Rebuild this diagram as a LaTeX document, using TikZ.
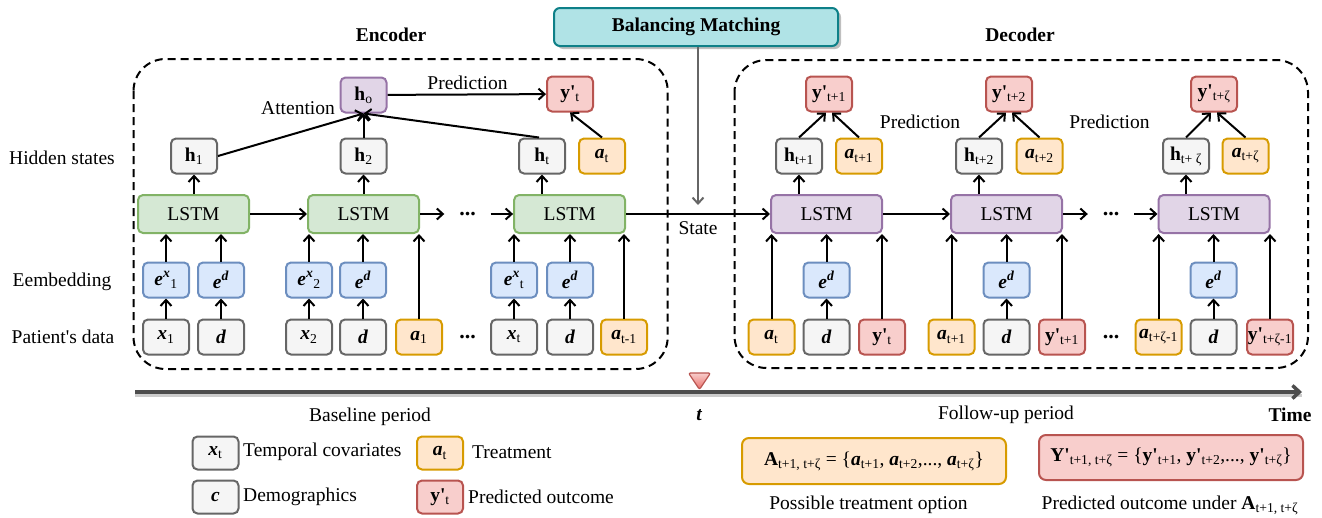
\documentclass[tikz,border=0pt]{standalone}
\usepackage{fontspec}
\setmainfont{Liberation Serif}
\usetikzlibrary{arrows.meta,shadows}
\definecolor{gfill}{HTML}{F5F5F5}\definecolor{gline}{HTML}{666666}
\definecolor{grfill}{HTML}{D5E8D4}\definecolor{grline}{HTML}{82B366}
\definecolor{bfill}{HTML}{DAE8FC}\definecolor{bline}{HTML}{6C8EBF}
\definecolor{ofill}{HTML}{FFE6CC}\definecolor{oline}{HTML}{D79B00}
\definecolor{rfill}{HTML}{F8CECC}\definecolor{rline}{HTML}{B85450}
\definecolor{pfill}{HTML}{E1D5E7}\definecolor{pline}{HTML}{9673A6}
\definecolor{tfill}{HTML}{B0E3E6}\definecolor{tline}{HTML}{0E8088}
\definecolor{tlcol}{HTML}{4D4D4D}\definecolor{tridark}{HTML}{EA6B66}
\newcommand{\bi}[1]{\textbf{\textit{#1}}}
\newcommand{\sbs}[1]{\textsubscript{#1}}
\newcommand{\sps}[1]{\textsuperscript{#1}}
\newcommand{\apo}{\textquotesingle}
\begin{document}
\begin{tikzpicture}[x=1pt,y=-1pt,
  every node/.style={font=\fontsize{19.5}{22}\selectfont},
  box/.style={draw, rounded corners=5pt, line width=2pt, minimum width=46pt, minimum height=35pt, inner sep=0pt},
  gbox/.style={box, fill=gfill, draw=gline},
  ebox/.style={box, fill=bfill, draw=bline},
  obox/.style={box, fill=ofill, draw=oline},
  rbox/.style={box, fill=rfill, draw=rline},
  pbox/.style={box, fill=pfill, draw=pline},
  lstmg/.style={box, minimum width=111pt, minimum height=38pt, fill=grfill, draw=grline},
  lstmp/.style={box, minimum width=111pt, minimum height=38pt, fill=pfill, draw=pline},
  dotsn/.style={minimum width=46pt, inner sep=0pt, font=\fontsize{22}{24}\selectfont\bfseries},
  arr/.style={line width=2pt, -{Straight Barb[length=6pt,width=11pt]}},
  dashbox/.style={line width=2pt, dash pattern=on 8pt off 5pt, rounded corners=32pt},
  lbl/.style={inner sep=1pt},
]
\useasboundingbox (0,0) rectangle (1322,517);

% dashed containers
\draw[dashbox] (133.5,59) rectangle (667.7,369);
\draw[dashbox] (734.5,60) rectangle (1308,368);
\node[font=\fontsize{19.5}{22}\selectfont\bfseries] (enc) at (391,35) {Encoder};
\node[font=\fontsize{19.5}{22}\selectfont\bfseries] (dec) at (1020,35) {Decoder};

% row labels
\node (lh) at (62,158) {Hidden states};
\node (le) at (62,282) {Eembedding};
\node (lp) at (63,337) {Patient\apo s data};

% ---------- Encoder ----------
\node[lstmg] (L1) at (193.5,214) {LSTM};
\node[lstmg] (L2) at (363.5,214) {LSTM};
\node[lstmg] (L3) at (569.6,214) {LSTM};
\node[dotsn] (ldots) at (467.5,214) {...};

\node[gbox] (h1) at (194,156) {\textbf{h}\sbs{1}};
\node[gbox] (h2) at (363.5,156) {\textbf{h}\sbs{2}};
\node[gbox] (ht) at (542,156) {\textbf{h}\sbs{t}};
\node[obox] (ate) at (602,156) {\bi{a}\sbs{t}};
\node[pbox] (ho) at (363.5,95) {\textbf{h}\sbs{o}};
\node[rbox] (ypte) at (570,94) {\textbf{y\apo}\sbs{t}};

\node[ebox] (ex1) at (166,280) {\bi{e}\sps{\bi{x}}\sbs{1}};
\node[ebox] (ed1) at (221,280) {\bi{e}\sps{\bi{d}}};
\node[ebox] (ex2) at (309,280) {\bi{e}\sps{\bi{x}}\sbs{2}};
\node[ebox] (ed2) at (363,280) {\bi{e}\sps{\bi{d}}};
\node[ebox] (ext) at (514,280) {\bi{e}\sps{\bi{x}}\sbs{t}};
\node[ebox] (edt) at (570,280) {\bi{e}\sps{\bi{d}}};

\node[gbox] (x1) at (166,337) {\bi{x}\sbs{1}};
\node[gbox] (d1) at (221,337) {\bi{d}};
\node[gbox] (x2) at (309,337) {\bi{x}\sbs{2}};
\node[gbox] (d2) at (363,337) {\bi{d}};
\node[obox] (a1) at (419,337) {\bi{a}\sbs{1}};
\node[dotsn] (pdots1) at (467.5,337) {...};
\node[gbox] (xt) at (514,337) {\bi{x}\sbs{t}};
\node[gbox] (dt) at (570,337) {\bi{d}};
\node[obox] (atm1) at (624,337) {\bi{a}\sbs{t-1}};

\foreach \a/\b in {x1/ex1,d1/ed1,x2/ex2,d2/ed2,xt/ext,dt/edt}
  \draw[arr] (\a) -- (\b);
\draw[arr] (ex1) -- (ex1 |- L1.south);
\draw[arr] (ed1) -- (ed1 |- L1.south);
\draw[arr] (ex2) -- (ex2 |- L2.south);
\draw[arr] (ed2) -- (ed2 |- L2.south);
\draw[arr] (a1) -- (a1 |- L2.south);
\draw[arr] (ext) -- (ext |- L3.south);
\draw[arr] (edt) -- (edt |- L3.south);
\draw[arr] (atm1) -- (atm1 |- L3.south);

\draw[arr] (L1) -- (L2);
\draw[arr] (L2) -- (ldots);
\draw[arr] (ldots) -- (L3);

\draw[arr] (h1 |- L1.north) -- (h1);
\draw[arr] (h2 |- L2.north) -- (h2);
\draw[arr] (ht |- L3.north) -- (ht);

\draw[arr] (h1.east) -- (ho.south);
\draw[arr] (h2) -- (ho);
\draw[arr] ([xshift=-3pt]ht.north) -- (ho.south);
\node[lbl] (attn) at (298,108) {Attention};
\draw[arr] (ho) -- (ypte);
\node[lbl] (pred0) at (467.5,83) {Prediction};
\draw[arr] (ate.north) -- (ypte.south);

% ---------- Balancing ----------
\node[box, fill=tfill, draw=tline, minimum width=284pt, minimum height=38pt, rounded corners=6pt,
  drop shadow={shadow xshift=3pt, shadow yshift=-3pt, opacity=0.25, fill=black},
  font=\fontsize{19.5}{22}\selectfont\bfseries] (bal) at (696,27) {Balancing Matching};
\coordinate (balend) at (698,205);
\draw[line width=2pt, draw=gline, -{Straight Barb[length=6pt,width=11pt]}] (bal.south -| balend) -- (balend);
\node[lbl] (state) at (698,228) {State};

% ---------- Decoder ----------
\node[lstmp] (D1) at (826.5,214) {LSTM};
\node[lstmp] (D2) at (1006.5,214) {LSTM};
\node[lstmp] (D3) at (1214,214) {LSTM};
\node[dotsn] (ddots) at (1111,214) {...};

\node[gbox] (hd1) at (799,156) {\textbf{h}\sbs{t+1}};
\node[obox] (ad1) at (859,156) {\bi{a}\sbs{t+1}};
\node[rbox] (yd1) at (829,94) {\textbf{y\apo}\sbs{t+1}};
\node[gbox] (hd2) at (979,156) {\textbf{h}\sbs{t+2}};
\node[obox] (ad2) at (1039.5,156) {\bi{a}\sbs{t+2}};
\node[rbox] (yd2) at (1009,94) {\textbf{y\apo}\sbs{t+2}};
\node[gbox] (hd3) at (1186,156) {\textbf{h}\sbs{t+ ζ}};
\node[obox] (ad3) at (1245.5,156) {\bi{a}\sbs{t+ζ}};
\node[rbox] (yd3) at (1214,94) {\textbf{y\apo}\sbs{t+ζ}};

\node[ebox] (ee1) at (826.5,280) {\bi{e}\sps{\bi{d}}};
\node[ebox] (ee2) at (1006.5,280) {\bi{e}\sps{\bi{d}}};
\node[ebox] (ee3) at (1213.5,280) {\bi{e}\sps{\bi{d}}};

\node[obox] (pa1) at (771.5,337) {\bi{a}\sbs{t}};
\node[gbox] (pd1) at (826.5,337) {\bi{d}};
\node[rbox] (py1) at (882,337) {\textbf{y\apo}\sbs{t}};
\node[obox] (pa2) at (951.5,337) {\bi{a}\sbs{t+1}};
\node[gbox] (pd2) at (1006.5,337) {\bi{d}};
\node[rbox] (py2) at (1062,337) {\textbf{y\apo}\sbs{t+1}};
\node[dotsn] (pdots2) at (1111,337) {...};
\node[obox] (pa3) at (1158.6,337) {\bi{a}\sbs{t+ζ-1}};
\node[gbox] (pd3) at (1213.5,337) {\bi{d}};
\node[rbox] (py3) at (1270,337) {\textbf{y\apo}\sbs{t+ζ-1}};

\foreach \a/\b in {pd1/ee1,pd2/ee2,pd3/ee3}
  \draw[arr] (\a) -- (\b);
\draw[arr] (ee1) -- (ee1 |- D1.south);
\draw[arr] (ee2) -- (ee2 |- D2.south);
\draw[arr] (ee3) -- (ee3 |- D3.south);
\draw[arr] (pa1) -- (pa1 |- D1.south);
\draw[arr] (py1) -- (py1 |- D1.south);
\draw[arr] (pa2) -- (pa2 |- D2.south);
\draw[arr] (py2) -- (py2 |- D2.south);
\draw[arr] (pa3) -- (pa3 |- D3.south);
\draw[arr] (py3) -- (py3 |- D3.south);

\draw[arr] (L3) -- (D1);
\draw[arr] (D1) -- (D2);
\draw[arr] (D2) -- (ddots);
\draw[arr] (ddots) -- (D3);

\draw[arr] (hd1 |- D1.north) -- (hd1);
\draw[arr] (hd2 |- D2.north) -- (hd2);
\draw[arr] (hd3 |- D3.north) -- (hd3);

\draw[arr] (hd1.north) -- ([xshift=-3pt]yd1.south);
\draw[arr] (ad1.north) -- ([xshift=3pt]yd1.south);
\draw[arr] (hd2.north) -- ([xshift=-3pt]yd2.south);
\draw[arr] (ad2.north) -- ([xshift=3pt]yd2.south);
\draw[arr] (hd3.north) -- ([xshift=-3pt]yd3.south);
\draw[arr] (ad3.north) -- ([xshift=3pt]yd3.south);
\node[lbl] (pred1) at (920,122) {Prediction};
\node[lbl] (pred2) at (1109.5,122) {Prediction};

% ---------- Timeline ----------
\coordinate (tl0) at (135,392);
\coordinate (tl1) at (1302,392);
\draw[line width=3pt, black!20] ([yshift=-3pt]tl0) -- ([yshift=-3pt]tl1);
\draw[line width=3.5pt, draw=tlcol, -{Straight Barb[length=7pt,width=13pt]}] (tl0) -- (tl1);
\coordinate (tmark) at (699.5,381);
\path[draw=rline, line width=1.2pt, rounded corners=2pt, top color=rfill, bottom color=tridark]
  (688.5,373) -- (710.5,373) -- (699.5,389.5) -- cycle;
\node[font=\fontsize{19.5}{22}\selectfont\bfseries\itshape] (tlab) at (699,415) {t};
\node (base) at (370,417) {Baseline period};
\node (fol) at (1006,415) {Follow-up period};
\node[font=\fontsize{19.5}{22}\selectfont\bfseries] (time) at (1290,415) {Time};

% ---------- Legend ----------
\node[gbox, minimum height=33pt] (lgx) at (215.5,453) {\bi{x}\sbs{t}};
\node[anchor=west, inner sep=0pt] (lgxt) at (243,452) {Temporal covariates};
\node[gbox, minimum height=33pt] (lgc) at (215.5,497) {\bi{c}};
\node[anchor=west, inner sep=0pt] (lgct) at (243,497) {Demographics};
\node[obox, minimum height=33pt] (lga) at (440,453) {\bi{a}\sbs{t}};
\node[anchor=west, inner sep=0pt] (lgat) at (472,452) {Treatment};
\node[rbox, minimum height=33pt] (lgy) at (440,497) {\textbf{y\apo}\sbs{t}};
\node[anchor=west, inner sep=0pt] (lgyt) at (468,497) {Predicted outcome};

\node[obox, minimum width=264pt, minimum height=46pt, rounded corners=7pt] (Abox) at (874,461)
  {\textbf{A}\sbs{t+1, t+ζ} = \{\bi{a}\sbs{t+1}, \bi{a}\sbs{t+2},..., \bi{a}\sbs{t+ζ}\}};
\node[rbox, minimum width=264pt, minimum height=45pt, rounded corners=7pt] (Ybox) at (1171,457.5)
  {\textbf{Y\apo}\sbs{t+1, t+ζ} = \{\textbf{y\apo}\sbs{t+1}, \textbf{y\apo}\sbs{t+2},..., \textbf{y\apo}\sbs{t+ζ}\}};
\node (Acap) at (868.5,505) {Possible treatment option};
\node (Ycap) at (1170,505) {Predicted outcome under \textbf{A}\sbs{t+1, t+ζ}};
\end{tikzpicture}
\end{document}
